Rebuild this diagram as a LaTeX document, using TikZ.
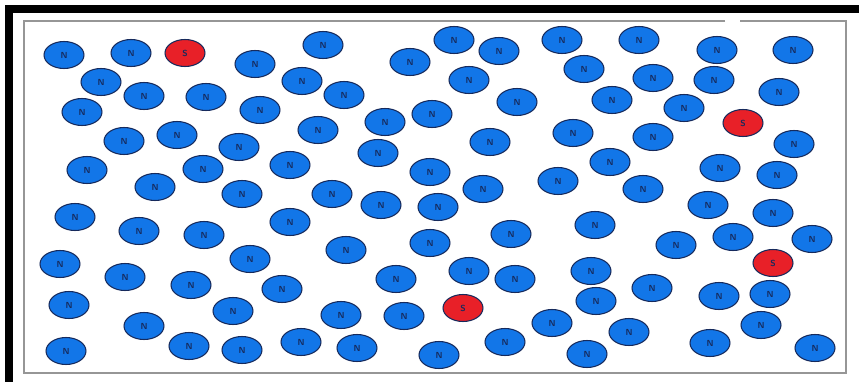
\documentclass[tikz,border=0pt]{standalone}
\usepackage{tikz}
\usetikzlibrary{shapes.geometric}
\definecolor{nfill}{RGB}{18, 118, 232}
\definecolor{sfill}{RGB}{232, 32, 40}
\definecolor{rim}{RGB}{22, 42, 92}
\definecolor{frame}{RGB}{150, 150, 150}

\tikzset{
  particle/.style={ellipse, draw=rim, line width=0.6pt, minimum width=0.8cm, minimum height=0.54cm, inner sep=0pt, font=\sffamily\bfseries\tiny, text=rim},
  nparticle/.style={particle, fill=nfill},
  sparticle/.style={particle, fill=sfill}
}

\begin{document}
\begin{tikzpicture}[x=0.02cm, y=-0.02cm]
                \useasboundingbox (0,0) rectangle (859,382);
                \fill[white] (0,0) rectangle (859,382);
                
                % heavy border, top and left
                \fill[black] (5,5) rectangle (859,13);
                \fill[black] (5,5) rectangle (13,382);
                
                % thin frame of the box
                \draw[frame, line width=1pt] (725,21) -- (24,21) -- (24,373) -- (846,373) -- (846,21) -- (740,21);
                
                % N particles
                \foreach \px/\py [count=\i] in {
                    64/55, 131/53, 255/64, 101/82, 144/96, 206/97, 82/112, 260/110,
                    323/45, 410/62, 454/40, 499/51, 562/40, 302/81, 344/95, 469/80,
                    517/102, 385/122, 432/114, 318/130, 639/40, 717/50, 793/50, 584/69,
                    653/78, 714/80, 612/100, 684/108, 779/92, 124/141, 177/135, 239/147,
                    87/170, 203/169, 155/187, 242/194, 75/217, 139/231, 204/235, 290/165,
                    290/222, 378/153, 430/172, 490/142, 332/194, 381/205, 438/207, 483/189,
                    558/181, 573/133, 430/243, 511/234, 346/250, 653/137, 794/144, 610/162,
                    643/189, 720/168, 777/175, 708/205, 773/213, 595/225, 676/245, 733/237,
                    812/239, 60/264, 125/277, 191/285, 250/259, 282/289, 69/305, 144/326,
                    233/311, 66/351, 189/346, 242/350, 469/271, 515/279, 396/279, 341/315,
                    404/316, 301/342, 357/348, 439/355, 505/342, 552/323, 591/271, 652/288,
                    596/301, 719/296, 770/294, 629/332, 761/325, 587/354, 710/343, 815/348}
                    \node[nparticle] (n\i) at (\px,\py) {N};
                
                % S particles
                \node[sparticle] (s1) at (185,53) {S};
                \node[sparticle] (s2) at (743,123) {S};
                \node[sparticle] (s3) at (773,263) {S};
                \node[sparticle] (s4) at (463,308) {S};
            \end{tikzpicture}
\end{document}
